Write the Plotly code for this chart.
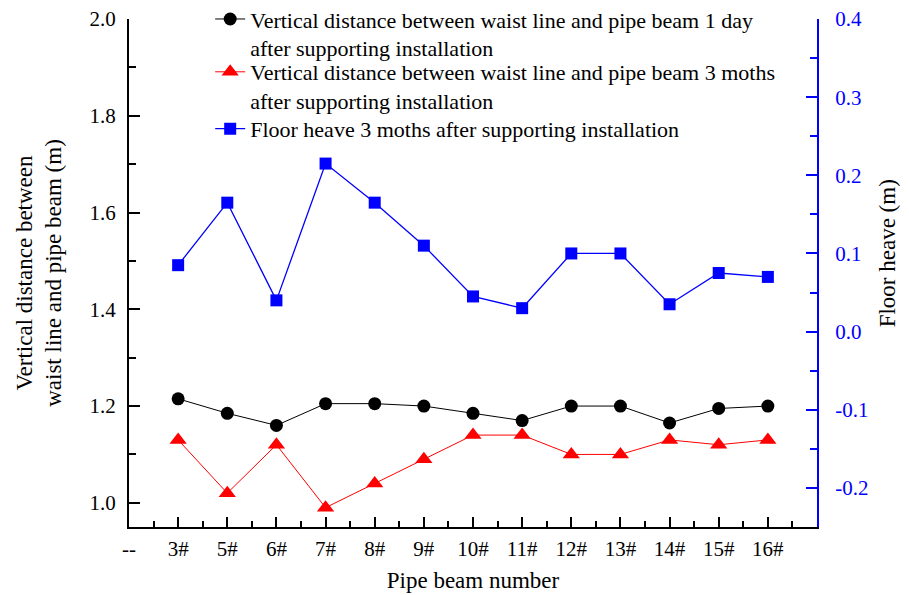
import plotly.graph_objects as go

# Pipe beam labels along the x axis ("--" marks the origin slot)
tick_labels = ["--", "3#", "5#", "6#", "7#", "8#", "9#", "10#", "11#", "12#", "13#", "14#", "15#", "16#"]
beams = tick_labels[1:]

# Vertical distance between waist line and pipe beam (m)
dist_1day = [1.215, 1.185, 1.16, 1.205, 1.205, 1.20, 1.185, 1.17, 1.20, 1.20, 1.165, 1.195, 1.20]
dist_3months = [1.13, 1.02, 1.12, 0.99, 1.04, 1.09, 1.14, 1.14, 1.10, 1.10, 1.13, 1.12, 1.13]

# Floor heave 3 months after installation (m)
heave_3months = [0.085, 0.165, 0.04, 0.215, 0.165, 0.11, 0.045, 0.03, 0.10, 0.10, 0.035, 0.075, 0.07]

# Axis tick values
left_ticks = [1.0, 1.2, 1.4, 1.6, 1.8, 2.0]
right_ticks = [-0.2, -0.1, 0.0, 0.1, 0.2, 0.3, 0.4]

x_pos = list(range(1, len(beams) + 1))
FONT = "Liberation Serif"
TICK_SIZE = 21
TITLE_SIZE = 23
LEGEND_SIZE = 22

fig = go.Figure()
fig.add_trace(go.Scatter(
    x=x_pos, y=dist_1day, mode="lines+markers", legend="legend",
    name="Vertical distance between waist line and pipe beam 1 day<br>after supporting installation",
    line=dict(color="black", width=1),
    marker=dict(symbol="circle", size=13, color="black"),
))
fig.add_trace(go.Scatter(
    x=x_pos, y=dist_3months, mode="lines+markers", legend="legend2",
    name="Vertical distance between waist line and pipe beam 3 moths<br>after supporting installation",
    line=dict(color="red", width=1),
    marker=dict(symbol="triangle-up", size=15, color="red"),
))
fig.add_trace(go.Scatter(
    x=x_pos, y=heave_3months, mode="lines+markers", yaxis="y2", legend="legend3",
    name="Floor heave 3 moths after supporting installation",
    line=dict(color="blue", width=1.3),
    marker=dict(symbol="square", size=12, color="blue"),
))


def legend_box(y_top):
    return dict(
        x=0.118, y=y_top, xanchor="left", yanchor="top", valign="top",
        bgcolor="rgba(0,0,0,0)", font=dict(family=FONT, size=LEGEND_SIZE),
        itemwidth=30,
    )


fig.update_layout(
    width=909, height=595,
    margin=dict(l=129, r=92, t=19, b=68, autoexpand=False),
    paper_bgcolor="white", plot_bgcolor="white",
    font=dict(family=FONT, size=TICK_SIZE, color="black"),
    showlegend=True,
    legend=legend_box(1.041),
    legend2=legend_box(0.937),
    legend3=legend_box(0.825),
    xaxis=dict(
        range=[0, 14], tickmode="array",
        tickvals=list(range(len(tick_labels))), ticktext=tick_labels,
        showgrid=False, zeroline=False,
        showline=True, linecolor="black", linewidth=2,
        ticks="inside", ticklen=10, tickwidth=2, tickcolor="black",
        ticklabelstandoff=2,
        minor=dict(tickmode="array", tickvals=[i + 0.5 for i in range(14)],
                   ticks="inside", ticklen=6, tickwidth=2, tickcolor="black"),
        title=dict(text="Pipe beam number", standoff=12, font=dict(family=FONT, size=TITLE_SIZE)),
        tickfont=dict(family=FONT, size=TICK_SIZE),
    ),
    yaxis=dict(
        range=[0.95, 2.0], tickmode="array",
        tickvals=left_ticks, ticktext=[f"{v:.1f}" for v in left_ticks],
        showgrid=False, zeroline=False,
        showline=True, linecolor="black", linewidth=2,
        ticks="inside", ticklen=11, tickwidth=2, tickcolor="black",
        ticklabelstandoff=7,
        minor=dict(tickmode="linear", tick0=1.1, dtick=0.2,
                   ticks="inside", ticklen=7, tickwidth=2, tickcolor="black"),
        title=dict(text="Vertical distance between<br>waist line and pipe beam (m)",
                   standoff=21, font=dict(family=FONT, size=TITLE_SIZE)),
        tickfont=dict(family=FONT, size=TICK_SIZE),
    ),
    yaxis2=dict(
        overlaying="y", side="right", anchor="x",
        range=[-0.25, 0.4], tickmode="array",
        tickvals=right_ticks, ticktext=[f"{v:.1f}" for v in right_ticks],
        showgrid=False, zeroline=False,
        showline=True, linecolor="blue", linewidth=2,
        ticks="inside", ticklen=11, tickwidth=2, tickcolor="blue",
        ticklabelstandoff=12,
        minor=dict(tickmode="linear", tick0=-0.25, dtick=0.1,
                   ticks="inside", ticklen=7, tickwidth=2, tickcolor="blue"),
        tickfont=dict(family=FONT, size=TICK_SIZE, color="blue"),
    ),
    annotations=[dict(
        text="Floor heave (m)", textangle=-90, showarrow=False,
        xref="paper", yref="paper", x=1.102, y=0.539,
        xanchor="center", yanchor="middle",
        font=dict(family=FONT, size=TITLE_SIZE, color="black"),
    )],
)

fig.write_html("out.html")
